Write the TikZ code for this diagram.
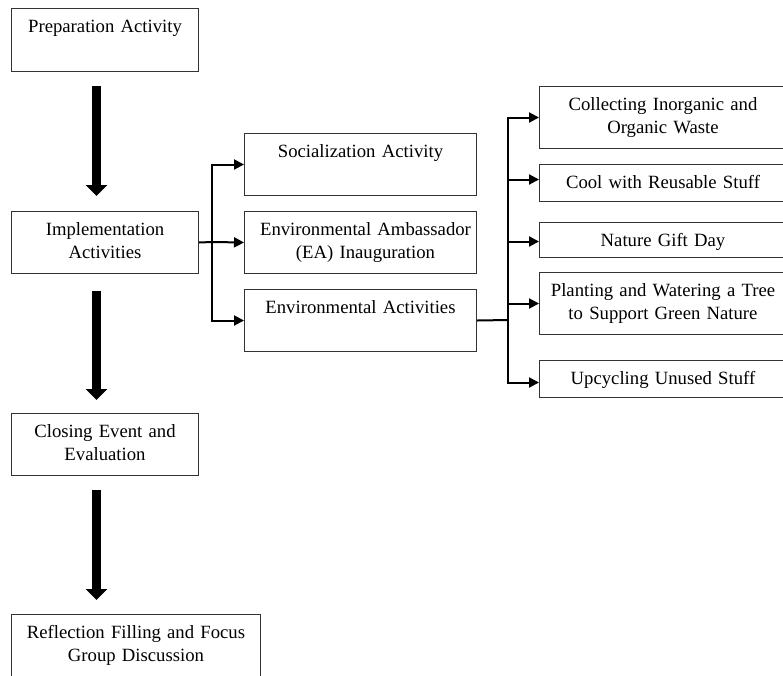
\documentclass[tikz,border=0pt]{standalone}
\usepackage{fontspec}
\setmainfont{Liberation Serif}
\usetikzlibrary{arrows.meta,calc}
\begin{document}
\begin{tikzpicture}[x=1pt,y=-1pt,
  box/.style={draw=black!80,line width=1pt,inner sep=0pt,anchor=north west},
  lbl/.style={inner sep=0pt,anchor=north,align=center,font=\fontsize{18.7}{23}\selectfont},
  big/.style={line width=9pt,-{Triangle[length=11pt,width=21pt]}},
  thinline/.style={line width=2pt},
  tip/.style={thinline,-{Triangle[length=10pt,width=10pt]}}]
\useasboundingbox (0,0) rectangle (783,675);

% left column
\node[box,minimum width=187pt,minimum height=63pt] (prep) at (11,8) {};
\node[lbl,text width=187pt] (prept) at ([yshift=-7.9pt]prep.north) {\strut Preparation Activity};
\node[box,minimum width=187pt,minimum height=62pt] (impl) at (11,211) {};
\node[lbl,text width=187pt] (implt) at ([yshift=-7.9pt]impl.north) {\strut Implementation\\Activities};
\node[box,minimum width=187pt,minimum height=62pt] (close) at (11,413) {};
\node[lbl,text width=187pt] (closet) at ([yshift=-7.9pt]close.north) {\strut Closing Event and\\Evaluation};
\node[box,minimum width=249pt,minimum height=80pt] (refl) at (11,614) {};
\node[lbl,text width=249pt] (reflt) at ([yshift=-7.9pt]refl.north) {\strut Reflection Filling and Focus\\Group Discussion};

% middle column
\node[box,minimum width=232pt,minimum height=62pt] (soc) at (244,133) {};
\node[lbl,text width=232pt] (soct) at ([yshift=-7.9pt]soc.north) {\strut Socialization Activity};
\node[box,minimum width=232pt,minimum height=62pt] (ea) at (244,211) {};
\node[lbl,text width=232pt] (eat) at ([xshift=5pt,yshift=-7.9pt]ea.north) {\strut Environmental Ambassador\\(EA) Inauguration};
\node[box,minimum width=232pt,minimum height=62pt] (env) at (244,289) {};
\node[lbl,text width=232pt] (envt) at ([yshift=-7.9pt]env.north) {\strut Environmental Activities};

% right column
\node[box,minimum width=247pt,minimum height=62pt] (r1) at (539,86) {};
\node[lbl,text width=247pt] (r1t) at ([yshift=-7.9pt]r1.north) {\strut Collecting Inorganic and\\Organic Waste};
\node[box,minimum width=247pt,minimum height=37pt] (r2) at (539,164) {};
\node[lbl,text width=247pt] (r2t) at ([yshift=-7.9pt]r2.north) {\strut Cool with Reusable Stuff};
\node[box,minimum width=247pt,minimum height=35pt] (r3) at (539,222) {};
\node[lbl,text width=247pt] (r3t) at ([yshift=-7.9pt]r3.north) {\strut Nature Gift Day};
\node[box,minimum width=247pt,minimum height=62pt] (r4) at (539,272) {};
\node[lbl,text width=247pt] (r4t) at ([yshift=-7.9pt]r4.north) {\strut Planting and Watering a Tree\\to Support Green Nature};
\node[box,minimum width=247pt,minimum height=37pt] (r5) at (539,360) {};
\node[lbl,text width=247pt] (r5t) at ([yshift=-7.9pt]r5.north) {\strut Upcycling Unused Stuff};

% big arrows
\coordinate (a1s) at ([xshift=-8.5pt,yshift=-14pt]prep.south);
\coordinate (a2s) at ([xshift=-8.5pt,yshift=-17pt]impl.south);
\coordinate (a3s) at ([xshift=-8.5pt,yshift=-14pt]close.south);
\draw[big] (a1s) -- ([xshift=-8.5pt,yshift=15pt]impl.north);
\draw[big] (a2s) -- ([xshift=-8.5pt,yshift=13pt]close.north);
\draw[big] (a3s) -- ([yshift=14pt]refl.north -| a3s);

% connectors from implementation
\coordinate (j1) at (212,242);
\draw[thinline] (impl.east) -- (j1);
\draw[tip] (j1) |- (soc.west);
\draw[tip] (j1) -- (ea.west);
\draw[tip] (j1) |- (env.west);

% connectors from environmental activities
\coordinate (j2) at (508,320);
\draw[thinline] (env.east) -- (j2);
\draw[tip] (j2) |- (r1.west);
\draw[tip] (j2) |- ([yshift=3.5pt]r2.west);
\draw[tip] (j2) |- ([yshift=-1.5pt]r3.west);
\draw[tip] (j2) |- (r4.west);
\draw[tip] (j2) |- ([yshift=-3.5pt]r5.west);
\end{tikzpicture}
\end{document}
